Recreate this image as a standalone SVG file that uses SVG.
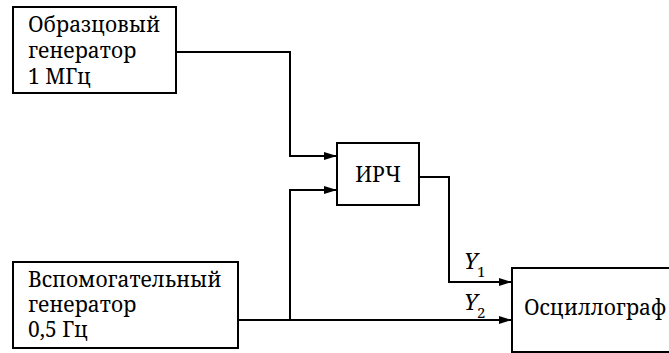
<svg xmlns="http://www.w3.org/2000/svg" width="669" height="353" viewBox="0 0 669 353">
<style>
.box{fill:#fff;stroke:#000;stroke-width:2}
.c{fill:none;stroke:#000;stroke-width:2}
</style>
<defs>
<marker id="ah" markerWidth="13" markerHeight="8" refX="13" refY="4" orient="auto" markerUnits="userSpaceOnUse">
<path d="M0,0 L13,4 L0,8 Z" fill="#000"/>
</marker>
</defs>
<rect width="669" height="353" fill="#fff"/>
<g id="connectors">
<path class="c" d="M176,52 H290 V156 H337" marker-end="url(#ah)"/>
<path class="c" d="M290,320 V190 H337" marker-end="url(#ah)"/>
<path class="c" d="M238,320 H512" marker-end="url(#ah)"/>
<path class="c" d="M419,177 H449 V282 H512" marker-end="url(#ah)"/>
</g>
<g id="ref-gen">
<rect class="box" x="13" y="7" width="163" height="86"/>
<text x="28" y="32" font-family="Noto Serif, serif" font-size="21">Образцовый</text>
<text x="28" y="58" font-family="Noto Serif, serif" font-size="21">генератор</text>
<text x="28" y="84" font-family="Noto Serif, serif" font-size="21">1 МГц</text>
</g>
<g id="aux-gen">
<rect class="box" x="13" y="262" width="225" height="86"/>
<text x="28" y="287" font-family="Noto Serif, serif" font-size="21">Вспомогательный</text>
<text x="28" y="312" font-family="Noto Serif, serif" font-size="21">генератор</text>
<text x="28" y="337" font-family="Noto Serif, serif" font-size="21">0,5 Гц</text>
</g>
<g id="irch">
<rect class="box" x="337" y="143" width="82" height="62"/>
<text x="378" y="182" text-anchor="middle" font-family="Noto Serif, serif" font-size="21">ИРЧ</text>
</g>
<g id="osc">
<rect class="box" x="512" y="268" width="170" height="84"/>
<text x="524" y="315" font-family="Noto Serif, serif" font-size="21">Осциллограф</text>
</g>
<g id="labels">
<text x="464" y="269" font-family="Noto Serif, serif" font-style="italic" font-size="22">Y</text><text x="477" y="277" font-family="Noto Serif, serif" font-size="15">1</text>
<text x="464" y="310" font-family="Noto Serif, serif" font-style="italic" font-size="22">Y</text><text x="477" y="318" font-family="Noto Serif, serif" font-size="15">2</text>
</g>
</svg>
